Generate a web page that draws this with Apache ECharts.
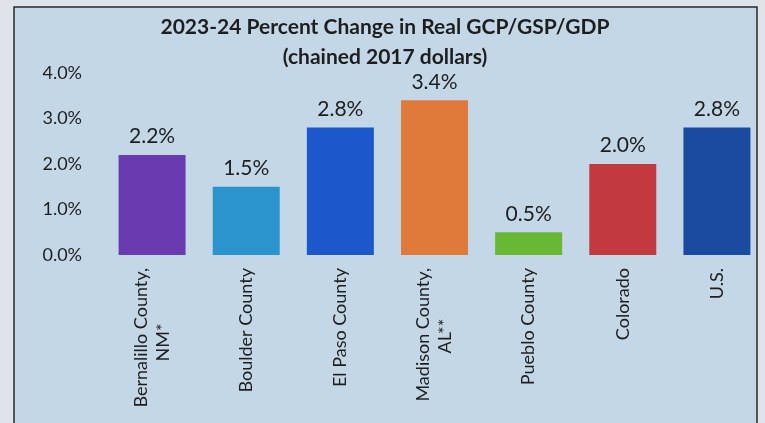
<!DOCTYPE html>
<html>
<head>
<meta charset="utf-8">
<script src="https://cdn.jsdelivr.net/npm/echarts@6/dist/echarts.min.js"></script>
<style>
  html, body { margin: 0; padding: 0; background: #dfe3ea; }
  #bar-chart { width: 765px; height: 423px; }
</style>
</head>
<body>
<div id="bar-chart"></div>
<script>
const categories = ['Bernalillo County,\nNM*            ', 'Boulder County', 'El Paso County', 'Madison County,\nAL**           ', 'Pueblo County', 'Colorado', 'U.S.'];
const values = [2.2, 1.5, 2.8, 3.4, 0.5, 2.0, 2.8];
const barColors = ['#6a3bb0', '#2b94cc', '#1d57cc', '#e07a3a', '#68b834', '#c23a40', '#1b4ba0'];
const yTicks = [0, 1, 2, 3, 4];

const renderBar = () => {
    const barChart = echarts.init(document.querySelector('#bar-chart'));
    barChart.setOption({
        backgroundColor: '#dfe3ea',
        textStyle: { fontFamily: 'Lato' },
        graphic: [
            {
                type: 'rect',
                z: -1,
                shape: { x: 14, y: 7, width: 743, height: 430 },
                style: { fill: '#c4d7e7', stroke: '#2a2a2a', lineWidth: 1.5 }
            }
        ],
        title: {
            text: '2023-24 Percent Change in Real GCP/GSP/GDP\n(chained 2017 dollars)',
            left: 380,
            top: 7,
            textAlign: 'center',
            textStyle: {
                fontFamily: 'Lato',
                fontSize: 21,
                fontWeight: 'bold',
                color: '#1e1e1e',
                lineHeight: 30
            }
        },
        grid: {
            left: 105,
            right: 1,
            top: 73,
            bottom: 168
        },
        xAxis: {
            type: 'category',
            data: categories,
            axisLine: { show: false },
            axisTick: { show: false },
            axisLabel: {
                rotate: 90,
                interval: 0,
                margin: 13,
                fontSize: 18,
                lineHeight: 22,
                color: '#1e1e1e'
            }
        },
        yAxis: {
            type: 'value',
            min: yTicks[0],
            max: yTicks[yTicks.length - 1],
            interval: 1,
            splitLine: { show: false },
            axisLine: { show: false },
            axisTick: { show: false },
            axisLabel: {
                margin: 23,
                fontSize: 18,
                color: '#1e1e1e',
                formatter: (value) => value.toFixed(1) + '%'
            }
        },
        series: [
            {
                type: 'bar',
                barWidth: 67,
                data: values.map((v, i) => ({ value: v, itemStyle: { color: barColors[i] } })),
                label: {
                    show: true,
                    position: 'top',
                    distance: 8,
                    fontSize: 21,
                    color: '#1e1e1e',
                    formatter: (param) => param.value.toFixed(1) + '%'
                }
            }
        ]
    });
};

renderBar();
</script>
</body>
</html>
